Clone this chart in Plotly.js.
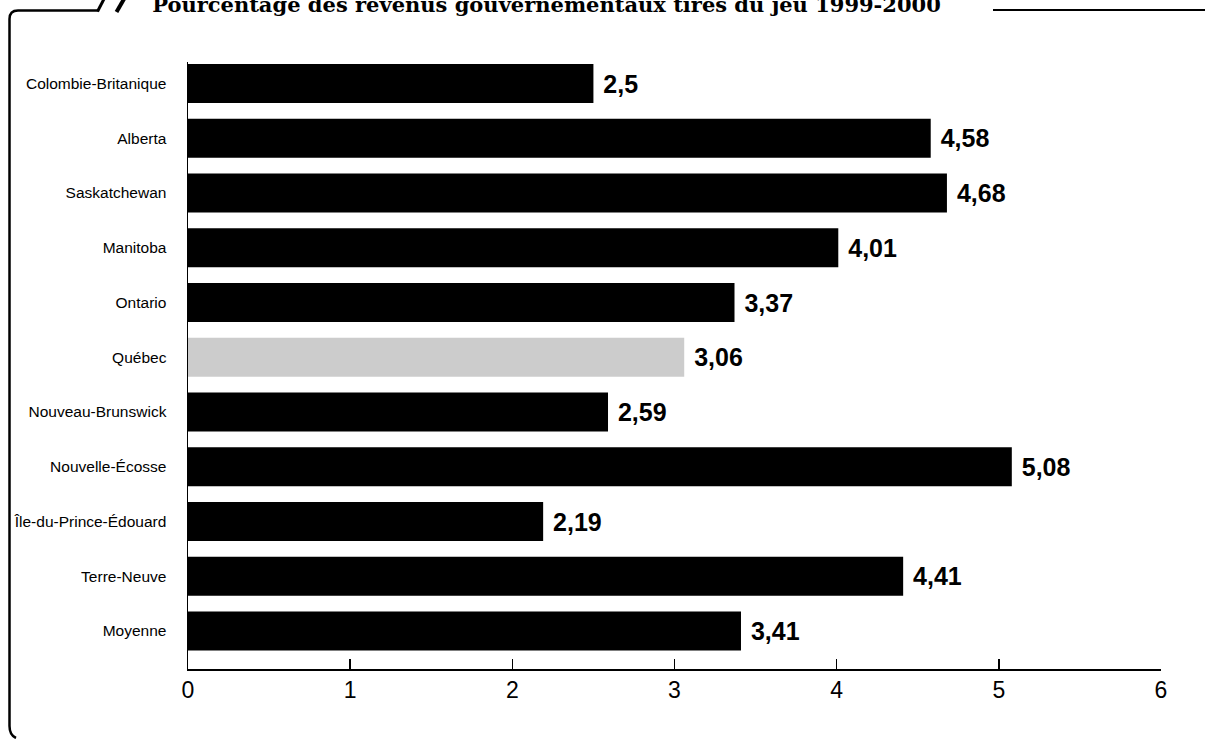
<!DOCTYPE html>
<html>
<head>
<meta charset="utf-8">
<script src="https://cdn.plot.ly/plotly-3.0.1.min.js"></script>
<style>
  html, body { margin: 0; padding: 0; background: #ffffff; }
  #chart { width: 1205px; height: 739px; }
</style>
</head>
<body>
<div id="chart"></div>
<script>
// Provinces, top to bottom
const provinces = [
  "Colombie-Britanique",
  "Alberta",
  "Saskatchewan",
  "Manitoba",
  "Ontario",
  "Québec",
  "Nouveau-Brunswick",
  "Nouvelle-Écosse",
  "Île-du-Prince-Édouard",
  "Terre-Neuve",
  "Moyenne"
];

// Share of government revenue from gambling, 1999-2000 (%)
const shares = [2.5, 4.58, 4.68, 4.01, 3.37, 3.06, 2.59, 5.08, 2.19, 4.41, 3.41];

const xTicks = [0, 1, 2, 3, 4, 5, 6];
const highlighted = "Québec";

const W = 1205, H = 739;
const M = { l: 188, r: 44, t: 62, b: 70 };
const PW = W - M.l - M.r, PH = H - M.t - M.b;

// pixel -> paper coordinates for the decorative frame
function P(px, py) {
  return ((px - M.l) / PW).toFixed(5) + "," + ((H - M.b - py) / PH).toFixed(5);
}

const barColors = provinces.map(p => p === highlighted ? "#cccccc" : "#000000");
const labels = shares.map(v => " " + String(v).replace(".", ","));

const trace = {
  type: "bar",
  orientation: "h",
  x: shares,
  y: provinces,
  marker: { color: barColors, line: { width: 0 } },
  text: labels,
  textposition: "outside",
  cliponaxis: false,
  textfont: { family: "Liberation Sans, Arial, sans-serif", size: 25, color: "#000000", weight: "bold" },
  hoverinfo: "skip"
};

const frame = [
  // left bracket of the frame, rounded corners
  {
    type: "path", xref: "paper", yref: "paper",
    path: "M" + P(98, 10.5) + " L" + P(18, 10.5) + " Q" + P(9.5, 10.5) + " " + P(9.5, 19) +
          " L" + P(9.5, 726) + " Q" + P(9.5, 735) + " " + P(16, 738),
    line: { color: "#000000", width: 2.5 }
  },
  // double slash
  { type: "line", xref: "paper", yref: "paper",
    x0: (97.5 - M.l) / PW, y0: (H - M.b - 11.5) / PH, x1: (104 - M.l) / PW, y1: (H - M.b + 1) / PH,
    line: { color: "#000000", width: 3 } },
  { type: "line", xref: "paper", yref: "paper",
    x0: (116.5 - M.l) / PW, y0: (H - M.b - 12) / PH, x1: (124 - M.l) / PW, y1: (H - M.b + 1) / PH,
    line: { color: "#000000", width: 4 } },
  // right rule
  { type: "line", xref: "paper", yref: "paper",
    x0: (993 - M.l) / PW, y0: (H - M.b - 10) / PH, x1: (1206 - M.l) / PW, y1: (H - M.b - 10) / PH,
    line: { color: "#000000", width: 2.2 } }
];

const layout = {
  width: W, height: H,
  margin: M,
  paper_bgcolor: "#ffffff",
  plot_bgcolor: "#ffffff",
  showlegend: false,
  bargap: 0.29,
  title: {
    text: "<b>Pourcentage des revenus gouvernementaux tirés du jeu 1999-2000</b>",
    font: { family: "DejaVu Serif, Liberation Serif, serif", size: 21, color: "#000000" },
    x: 546.5 / W, xanchor: "center",
    y: 1 - 5 / H, yanchor: "middle",
    yref: "container", xref: "container"
  },
  xaxis: {
    range: [0, 6],
    tickvals: xTicks,
    ticktext: xTicks.map(String),
    showgrid: false,
    zeroline: false,
    showline: true,
    linecolor: "#000000",
    linewidth: 1.5,
    ticks: "inside",
    ticklen: 10,
    tickwidth: 1.5,
    tickcolor: "#000000",
    tickfont: { family: "Liberation Sans, Arial, sans-serif", size: 23, color: "#000000" },
    fixedrange: true
  },
  yaxis: {
    type: "category",
    categoryorder: "array",
    categoryarray: provinces,
    range: [10.694, -0.393],
    showgrid: false,
    zeroline: false,
    showline: true,
    linecolor: "#000000",
    linewidth: 1.5,
    ticks: "",
    ticklabelstandoff: 17,
    tickfont: { family: "Liberation Sans, Arial, sans-serif", size: 15.5, color: "#000000" },
    fixedrange: true
  },
  shapes: frame
};

Plotly.newPlot("chart", [trace], layout, { displayModeBar: false, staticPlot: true });
</script>
</body>
</html>
